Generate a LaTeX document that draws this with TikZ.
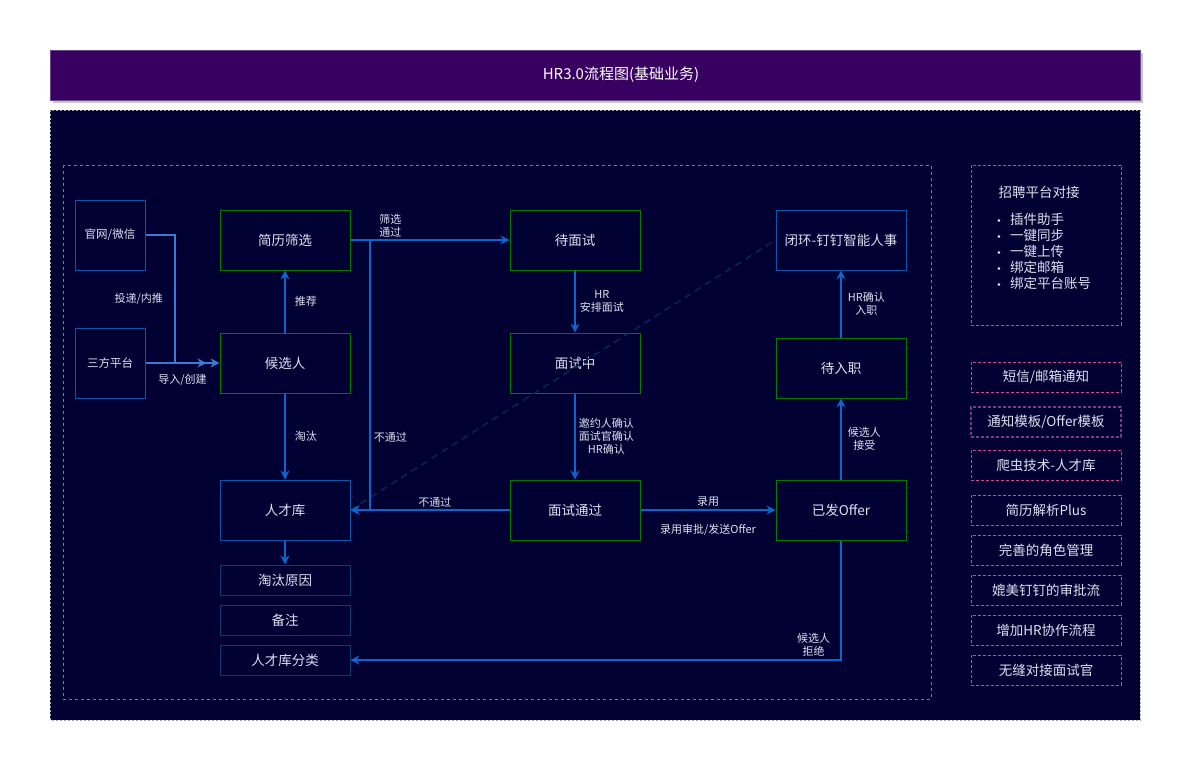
\documentclass[tikz,border=0pt]{standalone}
\usepackage{fontspec}
\setmainfont{Noto Sans CJK SC}
\usepackage{tikz}
\usetikzlibrary{arrows.meta,positioning}

\definecolor{navy}{HTML}{000033}
\definecolor{titlebg}{HTML}{380060}
\definecolor{titleline}{HTML}{6A4A8A}
\definecolor{txt}{HTML}{DCE2F0}
\definecolor{flow}{HTML}{0A66CC}
\definecolor{feedline}{HTML}{3A7AD8}
\definecolor{okgreen}{HTML}{007A00}
\definecolor{poolblue}{HTML}{0A56A8}
\definecolor{subblue}{HTML}{0A3E70}
\definecolor{pinkdash}{HTML}{D8448C}
\definecolor{purpdash}{HTML}{7A3A8A}
\definecolor{hint}{HTML}{0A2456}

\newcommand{\dotitem}{\raisebox{2.5pt}{\fontsize{6}{6}\selectfont$\bullet$}\hspace{9pt}}

\tikzset{
  stage/.style={draw=okgreen, line width=1pt, text=txt, minimum width=130pt, minimum height=60pt, font=\fontsize{13.5}{15}\selectfont},
  pool/.style={stage, draw=poolblue},
  source/.style={pool, minimum width=70pt, minimum height=70pt, font=\fontsize{11.5}{14}\selectfont},
  sub/.style={draw=subblue, line width=1pt, text=txt, minimum width=130pt, minimum height=30pt, font=\fontsize{13.5}{15}\selectfont},
  feat/.style={draw=pinkdash, dash pattern=on 3pt off 2pt, line width=1pt, text=txt, minimum width=150pt, minimum height=30pt, font=\fontsize{13.5}{15}\selectfont},
  lbl/.style={text=txt, inner sep=1pt, align=center, font=\fontsize{11}{13}\selectfont},
  go/.style={draw=flow, line width=1.6pt, -{Stealth[length=9pt,width=9pt,inset=3pt]}},
  feed/.style={go, draw=feedline, line width=2.2pt},
}

\begin{document}
\begin{tikzpicture}[x=1pt,y=-1pt]
  \fill[white] (0,0) rectangle (1193,771);
  \useasboundingbox (0,0) rectangle (1193,771);

  % title bar
  \fill[gray!45] (53,53) rectangle (1143,103);
  \draw[fill=titlebg, draw=titleline, line width=1pt] (50,50) rectangle (1140,100);
  \node[text=white, font=\fontsize{15}{17}\selectfont] (title) at (621,75) {HR3.0流程图(基础业务)};

  % panels
  \draw[fill=navy, draw=gray!70, dash pattern=on 2pt off 2pt, line width=1pt] (50,110) rectangle (1140,720);
  \draw[draw=gray!60!pinkdash, dash pattern=on 3pt off 3pt, line width=0.6pt] (63,165) rectangle (931,699);

  % left column
  \node[source] (web) at (110,235) {官网/微信};
  \node[source] (third) at (110,363) {三方平台};
  \node[stage] (screen) at (285,240) {简历筛选};
  \node[stage] (cand) at (285,363) {候选人};
  \node[pool] (pool) at (285,510) {人才库};
  \node[sub] (reason) at (285,580) {淘汰原因};
  \node[sub] (memo) at (285,620) {备注};
  \node[sub] (kind) at (285,660) {人才库分类};

  % interview column
  \node[stage] (wait) at (575,240) {待面试};
  \node[stage] (inter) at (575,363) {面试中};
  \node[stage] (pass) at (575,510) {面试通过};

  % offer column
  \node[stage] (offer) at (841,510) {已发Offer};
  \node[stage] (onboard) at (841,368) {待入职};
  \node[pool] (closed) at (841,240) {闭环-钉钉智能人事};

  % right side features
  \node[feat, minimum height=160pt] (plat) at (1046,245) {};
  \node[lbl, font=\fontsize{13.5}{15}\selectfont] (plattitle) at (1039,192) {招聘平台对接};
  \node[lbl, align=left, anchor=north west, font=\fontsize{13.5}{16}\selectfont] (platlist) at (996,212)
    {\dotitem 插件助手\\\dotitem 一键同步\\\dotitem 一键上传\\\dotitem 绑定邮箱\\\dotitem 绑定平台账号};
  \node[feat] (f1) at (1046,377) {短信/邮箱通知};
  \node[feat, draw=purpdash, line width=1.4pt] (f2) at (1046,422) {通知模板/Offer模板};
  \node[feat] (f3) at (1046,465) {爬虫技术-人才库};
  \node[feat] (f4) at (1046,510) {简历解析Plus};
  \node[feat] (f5) at (1046,550) {完善的角色管理};
  \node[feat] (f6) at (1046,590) {媲美钉钉的审批流};
  \node[feat] (f7) at (1046,630) {增加HR协作流程};
  \node[feat] (f8) at (1046,670) {无缝对接面试官};

  % hint line
  \draw[hint, line width=1.5pt, dash pattern=on 7pt off 5pt] (pool.east) -- (closed.west);

  % sources
  \coordinate (merge) at (175,363);
  \draw[feed] (web.east) -| node[lbl, left=10pt, pos=0.75] {投递/内推} (merge) -- ([xshift=-13pt]cand.west);
  \draw[feed] (third.east) -- node[lbl, below=9pt] {导入/创建} (cand.west);

  \draw[go] (cand) -- node[lbl, right=8pt] {推荐} (screen);
  \draw[go] (cand) -- node[lbl, right=8pt] {淘汰} (pool);
  \draw[go] (pool) -- (reason);

  \coordinate (split) at (370,240);
  \draw[go] (screen.east) -- node[lbl, above=1pt, pos=0.25] {筛选\\通过} (wait.west);
  \draw[go] (split) |- node[lbl, right=2pt, pos=0.365] {不通过} (pool.east);

  \draw[go] (wait) -- node[lbl, right=3pt] {HR\\安排面试} (inter);
  \draw[go] (inter) -- node[lbl, right=2pt] {邀约人确认\\面试官确认\\HR确认} (pass);
  \draw[go] (pass) -- node[lbl, above=1pt, pos=0.47] {不通过} (pool);

  \draw[go] (pass) -- node[lbl, above=2pt] {录用} node[lbl, below=12pt] {录用审批/发送Offer} (offer);
  \draw[go] (offer) -- node[lbl, right=5pt] {候选人\\接受} (onboard);
  \draw[go] (onboard) -- node[lbl, right=5pt] {HR确认\\入职} (closed);
  \draw[go] (offer.south) |- node[lbl, anchor=south east, pos=0.5, inner sep=3pt, xshift=-7pt] {候选人\\拒绝} (kind.east);
\end{tikzpicture}
\end{document}
